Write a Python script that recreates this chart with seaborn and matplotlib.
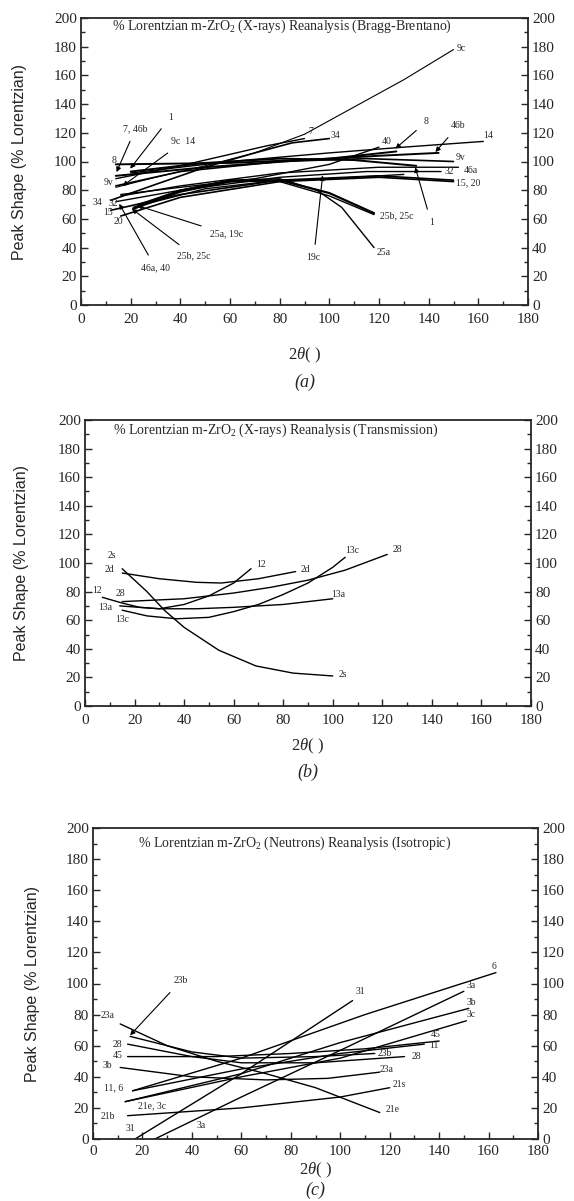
import numpy as np
import pandas as pd
import matplotlib
matplotlib.use("Agg")
import matplotlib.pyplot as plt
import seaborn as sns
from matplotlib.ticker import MultipleLocator

# ---------------- data ----------------
# Panel (a): X-rays, Bragg-Brentano
a_names = ["9c", "7", "34", "8", "46b", "14", "1", "9v", "40", "46a", "32",
           "15", "20", "25a", "25b", "25c", "19c"]
a_x = [[14, 30, 50, 70, 90, 110, 130, 150],
       [14, 40, 60, 75, 90],
       [12, 30, 50, 70, 85, 100],
       [14, 60, 100, 127],
       [14, 50, 90, 120, 144],
       [20, 60, 100, 130, 162],
       [20, 50, 80, 110, 135],
       [14, 40, 80, 115, 150],
       [16, 40, 70, 100, 120],
       [16, 40, 80, 120, 152],
       [14, 40, 80, 115, 145],
       [12, 40, 80, 120, 150],
       [16, 40, 80, 120, 150],
       [23, 40, 60, 80, 95, 105, 118],
       [21, 40, 60, 80, 100, 118],
       [21, 40, 60, 80, 100, 118],
       [23, 50, 75, 100, 130]]
a_y = [[82, 89, 97, 106, 119, 138, 157, 178],
       [88, 97, 105, 111, 116],
       [73, 84, 96, 106, 113, 116],
       [98, 99, 102, 107],
       [90, 96, 101, 104, 106],
       [92, 100, 106, 110, 114],
       [93, 99, 102, 101, 97],
       [83, 93, 100, 102, 100],
       [77, 82, 88, 98, 110],
       [76, 83, 92, 96, 96],
       [72, 80, 89, 93, 93],
       [66, 77, 87, 90, 87],
       [62, 75, 86, 89, 86],
       [70, 80, 87, 88, 80, 68, 40],
       [67, 79, 86, 87, 78, 64],
       [68, 80, 87, 86, 76, 63],
       [69, 81, 86, 88, 91]]
a_lw = [0.8, 1.0, 1.2, 1.4, 1.4, 1.0, 1.4, 1.2, 1.0, 1.0, 1.0, 1.2, 1.2, 1.0, 1.6, 1.0, 1.0]

a_text = ["9c", "7", "34", "40", "14", "9v", "32", "46a", "15, 20", "25b, 25c", "25a",
          "8", "9v", "34", "32", "15", "20"]
a_text_x = [153, 92.6, 102.4, 123, 164, 153, 148.5, 157, 156, 127, 122,
            13.2, 11, 6.6, 13, 11, 15]
a_text_y = [179, 120.7, 118, 113.6, 118, 103, 93, 94, 85, 62.3, 36.6,
            100.8, 85.6, 71.6, 71, 64.6, 58]
a_arrow_text = ["7, 46b", "1", "9c  14", "8", "46b", "1", "19c", "25a, 19c", "25b, 25c", "46a, 40"]
a_arrow_tx = [22, 36, 41, 139, 152, 141, 93.7, 58.5, 45.4, 30]
a_arrow_ty = [123, 131, 113.6, 127.6, 125, 57.6, 33, 49.5, 34.3, 26]
a_arrow_px = [14.3, 19.8, 16.8, 126.6, 142.7, 134.6, 97.3, 22.7, 20.5, 15.4]
a_arrow_py = [92.6, 95, 83, 109, 106.6, 96, 90.3, 69.3, 67, 70.5]

# Panel (b): X-rays, Transmission
b_names = ["2s", "2d", "12", "28", "13a", "13c"]
b_x = [[15, 25, 32, 40, 54, 69, 84, 100],
       [15, 30, 45, 55, 70, 85],
       [7, 15, 22, 30, 40, 50, 60, 67],
       [15, 40, 60, 75, 90, 105, 122],
       [14, 30, 45, 60, 80, 100],
       [15, 25, 37, 50, 60, 70, 80, 90, 100, 105]]
b_y = [[96, 80, 67, 55, 39, 28, 23, 21],
       [93, 89, 86.5, 86, 89, 94],
       [76, 72, 69, 68, 71, 77, 86, 96],
       [73, 75, 79, 83, 88, 95, 106],
       [70, 68, 68, 69, 71, 75],
       [67, 63, 61, 62, 66, 71, 78, 86, 97, 104]]
b_text = ["2s", "2d", "12", "28", "13a", "13c", "12", "2d", "13c", "28", "13a", "2s"]
b_text_x = [10.8, 9.7, 4.9, 14.5, 8.3, 15.2, 71, 89, 108, 126, 102, 104]
b_text_y = [105, 95.7, 81, 79, 69, 60.7, 99, 95.7, 109, 109.7, 78, 22]

# Panel (c): Neutrons, Isotropic
c_names = ["23a", "23b", "28", "45", "3b", "11", "6", "21e", "3c", "21b", "31", "3a"]
c_x = [[11, 30, 50, 70, 90, 116],
       [15, 40, 60, 90, 114],
       [14, 40, 60, 90, 126],
       [14, 50, 80, 110, 140],
       [11, 40, 70, 95, 116],
       [16, 60, 100, 134],
       [16, 60, 110, 163],
       [13, 60, 100, 152],
       [13, 60, 100, 151],
       [14, 60, 100, 120],
       [17, 60, 105],
       [25, 60, 100, 150]]
c_y = [[74, 60, 50, 42, 33, 17],
       [66, 56, 52, 53, 55],
       [61, 53, 49, 49, 53],
       [53, 53, 55, 58, 63],
       [46, 40, 38, 39, 43],
       [31, 45, 55, 61],
       [31, 52, 80, 107],
       [24, 42, 62, 84],
       [24, 40, 52, 76],
       [15, 20, 27, 33],
       [0, 42, 89],
       [0, 27, 57, 95]]
c_text = ["23a", "28", "45", "3b", "11, 6", "21e, 3c", "21b", "31", "3a",
          "31", "6", "3a", "3b", "3c", "45", "11", "23b", "28", "23a", "21s", "21e"]
c_text_x = [6, 10, 10, 6, 8.5, 24, 6, 15, 43.7,
            108, 162, 153, 153, 153, 138.5, 138, 118, 131, 118.7, 124, 121]
c_text_y = [79.5, 61, 54, 47, 33, 21.5, 14.5, 6.5, 8.7,
            95, 111, 99, 88, 80, 67, 60, 55, 53, 44.4, 35, 18.7]
c_arrow_text = ["23b"]
c_arrow_tx = [35.6]
c_arrow_ty = [101.8]
c_arrow_px = [15]
c_arrow_py = [66.7]

titles = [r"% Lorentzian m-ZrO$_2$ (X-rays) Reanalysis (Bragg-Brentano)",
          r"% Lorentzian m-ZrO$_2$ (X-rays) Reanalysis (Transmission)",
          r"% Lorentzian m-ZrO$_2$ (Neutrons) Reanalysis (Isotropic)"]
captions = ["(a)", "(b)", "(c)"]
ylabel = "Peak Shape (% Lorentzian)"

# ---------------- style ----------------
sns.set_style("ticks")
plt.rcParams["font.family"] = ["Liberation Serif", "DejaVu Serif"]
plt.rcParams["mathtext.fontset"] = "custom"
plt.rcParams["mathtext.rm"] = "Liberation Serif"
plt.rcParams["mathtext.it"] = "Liberation Serif:italic"

fig = plt.figure(figsize=(5.74, 12.01), dpi=100)
W, H = 574.0, 1201.0
rects = [(81, 528, 18, 305), (85, 531, 420, 706), (93, 538, 828, 1139)]
xpads = [6, 6, 4]
xlab_y = [355, 746, 1170]
cap_y = [382, 772, 1190]
ylab_x = [20, 22, 33]
title_pos = [(12.5, 194), (11.3, 193), (18, 190)]


def make_ax(rect, xpad):
    l, r, t, b = rect
    ax = fig.add_axes([l / W, 1 - b / H, (r - l) / W, (b - t) / H])
    ax.set_xlim(0, 180)
    ax.set_ylim(0, 200)
    ax.xaxis.set_major_locator(MultipleLocator(20))
    ax.xaxis.set_minor_locator(MultipleLocator(10))
    ax.yaxis.set_major_locator(MultipleLocator(20))
    ax.yaxis.set_minor_locator(MultipleLocator(10))
    ax.tick_params(which="both", direction="in", right=True, top=False,
                   labelright=True, labelsize=11, width=1.0, pad=3)
    ax.tick_params(axis="x", which="both", pad=xpad)
    ax.tick_params(which="major", length=5)
    ax.tick_params(which="minor", length=3)
    for s in ax.spines.values():
        s.set_visible(True)
        s.set_linewidth(1.3)
    ax.set_xlabel("")
    ax.set_ylabel("")
    return ax


def draw_curves(ax, names, xs, ys, lws):
    for n, x, y, w in zip(names, xs, ys, lws):
        df = pd.DataFrame({"x": x, "y": y, "curve": n})
        sns.lineplot(data=df, x="x", y="y", units="curve", estimator=None,
                     sort=False, color="black", lw=w, ax=ax, legend=False)
    ax.set_xlabel("")
    ax.set_ylabel("")


def draw_labels(ax, texts, tx, ty):
    for t, x, y in zip(texts, tx, ty):
        ax.text(x, y, t, fontsize=7, ha="center", va="center")


def draw_arrows(ax, texts, tx, ty, px, py):
    for t, x, y, u, v in zip(texts, tx, ty, px, py):
        ax.annotate(t, xy=(u, v), xytext=(x, y), fontsize=7,
                    ha="center", va="center",
                    arrowprops=dict(arrowstyle="-|>", lw=0.8, color="black",
                                    mutation_scale=7, shrinkA=4, shrinkB=0))


axes = [make_ax(r, p) for r, p in zip(rects, xpads)]

draw_curves(axes[0], a_names, a_x, a_y, a_lw)
draw_labels(axes[0], a_text, a_text_x, a_text_y)
draw_arrows(axes[0], a_arrow_text, a_arrow_tx, a_arrow_ty, a_arrow_px, a_arrow_py)

draw_curves(axes[1], b_names, b_x, b_y, [1.0] * len(b_names))
draw_labels(axes[1], b_text, b_text_x, b_text_y)

draw_curves(axes[2], c_names, c_x, c_y, [1.0] * len(c_names))
draw_labels(axes[2], c_text, c_text_x, c_text_y)
draw_arrows(axes[2], c_arrow_text, c_arrow_tx, c_arrow_ty, c_arrow_px, c_arrow_py)

for i, ax in enumerate(axes):
    ax.text(title_pos[i][0], title_pos[i][1], titles[i], fontsize=10,
            ha="left", va="center")
    l, r, t, b = rects[i]
    cx = (l + r) / 2 / W
    fig.text(cx, 1 - xlab_y[i] / H, r"$2\theta$( )", fontsize=12, ha="center", va="center")
    fig.text(cx, 1 - cap_y[i] / H, captions[i], fontsize=13, style="italic",
             ha="center", va="center")
    fig.text(ylab_x[i] / W, 1 - (t + b) / 2 / H, ylabel, rotation=90, fontsize=11.5,
             family=["Liberation Sans", "DejaVu Sans"], ha="center", va="center")

fig.savefig("out.png", dpi=100)
